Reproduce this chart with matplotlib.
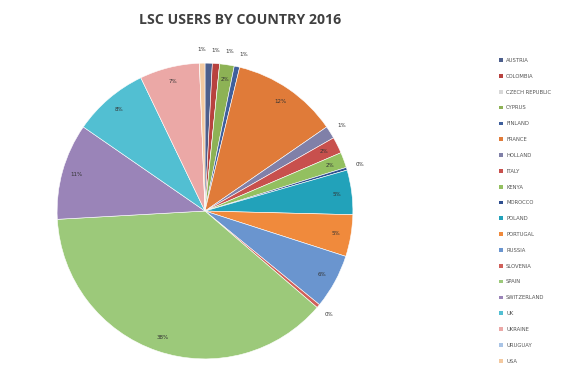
import numpy as np
import matplotlib.pyplot as plt
from matplotlib.patches import Patch

countries = ['AUSTRIA', 'COLOMBIA', 'CZECH REPUBLIC', 'CYPRUS', 'FINLAND',
             'FRANCE', 'HOLLAND', 'ITALY', 'KENYA', 'MOROCCO',
             'POLAND', 'PORTUGAL', 'RUSSIA', 'SLOVENIA', 'SPAIN',
             'SWITZERLAND', 'UK', 'UKRAINE', 'URUGUAY', 'USA']
share = [0.8, 0.8, 0.0, 1.6, 0.6,
         11.7, 1.4, 1.8, 1.7, 0.3,
         4.9, 4.6, 6.0, 0.4, 38.1,
         10.6, 8.3, 6.6, 0.0, 0.6]
colors = ['#4d5f8c', '#b8423f', '#d8d8d8', '#8db255', '#3f5f9c',
          '#e07b39', '#8080a8', '#c8504d', '#93c060', '#2f4f8f',
          '#22a2ba', '#f08a3c', '#6a95cf', '#d0605a', '#9cc97a',
          '#9a84b8', '#52bfd2', '#eba8a6', '#a9c4e6', '#f3c9a0']

fig = plt.figure(figsize=(5.75, 3.67), dpi=100)
fig.patch.set_facecolor('white')
fig.text(0.417, 0.945, 'LSC USERS BY COUNTRY 2016', ha='center', va='center',
         fontsize=10.2, fontweight='bold', color='#404040', family='Open Sans')

ax = fig.add_axes([0.099, 0.022, 0.515, 0.806])
wedges, _ = ax.pie(share, colors=colors, startangle=90, counterclock=False,
                   wedgeprops=dict(edgecolor='white', linewidth=0.4))
ax.set_xlim(-1, 1)
ax.set_ylim(-1, 1)
ax.set_aspect('equal')

# slice mid-angles, clockwise degrees from 12 o'clock
total = sum(share)
labels = []
start = 0.0
for v in share:
    if v > 0:
        mid = (start + v / 2) / total * 360
        if mid > 355:
            mid -= 360
        labels.append([mid, v])
    start += v

# thin slices get their label just outside the rim, spread so they don't collide
outside = sorted([l for l in labels if l[1] < 1.5], key=lambda l: l[0])
prev = None
for l in outside:
    if prev is not None and l[0] - prev < 5:
        l[0] = prev + 5
    prev = l[0]

for mid, v in labels:
    ang = np.deg2rad(90 - mid)
    r = 0.9 if v >= 1.5 else 1.09
    ax.text(r * np.cos(ang), r * np.sin(ang), '%d%%' % round(v),
            ha='center', va='center', fontsize=4, color='#333333')

handles = [Patch(facecolor=c, edgecolor='none') for c in colors]
fig.legend(handles, countries, loc='upper left', bbox_to_anchor=(0.86, 0.855),
           frameon=False, fontsize=3.8, labelspacing=2.05,
           handlelength=0.7, handleheight=0.7, handletextpad=0.6,
           labelcolor='#555555')

fig.savefig('out.png', dpi=100)
